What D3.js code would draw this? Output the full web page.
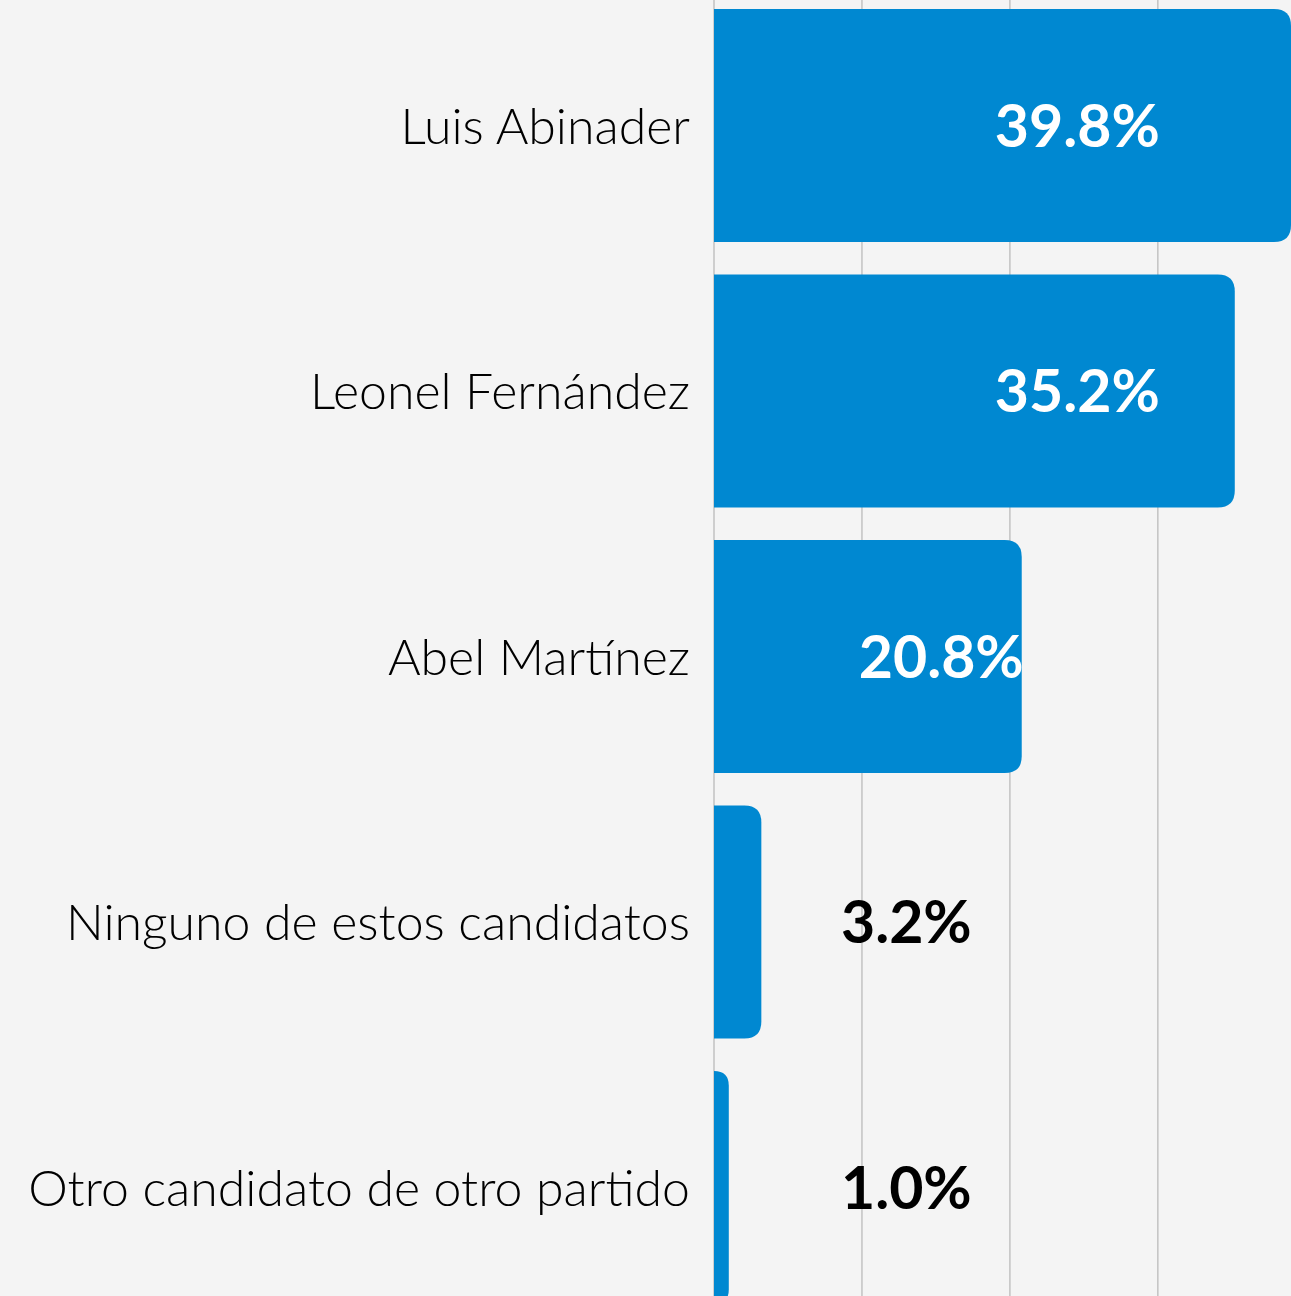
<!DOCTYPE html>
<html>
<head>
<meta charset="utf-8">
<script src="https://cdn.jsdelivr.net/npm/d3@7"></script>
<style>
  html, body { margin: 0; padding: 0; background: #f4f4f4; }
  svg { display: block; }
</style>
</head>
<body>
<svg id="chart" width="1291" height="1296"></svg>
<script>
// Intención de voto por candidato (%)
const candidates = [
  "Luis Abinader",
  "Leonel Fernández",
  "Abel Martínez",
  "Ninguno de estos candidatos",
  "Otro candidato de otro partido"
];
const shares = [39.8, 35.2, 20.8, 3.2, 1.0];
const gridTicks = [0, 10, 20, 30];

const data = candidates.map((name, i) => ({ name, value: shares[i] }));

const W = 1291, H = 1296;
const svg = d3.select("#chart");

svg.append("rect").attr("width", W).attr("height", H).attr("fill", "#f4f4f4");

// horizontal value scale; the plot area ends at the right edge of the frame
const x = d3.scaleLinear().domain([0, 39]).range([714, 1291]).clamp(true);

// vertical band scale for the categories
const y = d3.scaleBand()
  .domain(candidates)
  .range([-7.2, 1320.3])
  .paddingInner(0.122)
  .paddingOuter(0.061);

// vertical gridlines
svg.append("g")
  .selectAll("line")
  .data(gridTicks)
  .join("line")
  .attr("x1", d => x(d)).attr("x2", d => x(d))
  .attr("y1", 0).attr("y2", H)
  .attr("stroke", "#c2c2c2")
  .attr("stroke-width", 1.5);

// bar with square left side and rounded right corners
function barPath(x0, x1, y0, h, r) {
  const w = x1 - x0;
  const rr = Math.min(r, w, h / 2);
  return `M${x0},${y0}H${x1 - rr}Q${x1},${y0} ${x1},${y0 + rr}` +
         `V${y0 + h - rr}Q${x1},${y0 + h} ${x1 - rr},${y0 + h}H${x0}Z`;
}

svg.append("g")
  .selectAll("path")
  .data(data)
  .join("path")
  .attr("d", d => barPath(x(0), x(d.value), y(d.name), y.bandwidth(), 17))
  .attr("fill", "#0088d1");

// category labels
svg.append("g")
  .selectAll("text")
  .data(data)
  .join("text")
  .attr("x", 690)
  .attr("y", d => y(d.name) + y.bandwidth() / 2)
  .attr("dy", "0.36em")
  .attr("text-anchor", "end")
  .attr("font-family", "Lato, 'Open Sans', sans-serif")
  .attr("font-weight", 300)
  .attr("font-size", 50)
  .attr("fill", "#000")
  .text(d => d.name);

// value labels: inside the long bars in white, beside the short ones in black
const insideMin = 10;
const fmt = d => d.toFixed(1) + "%";
svg.append("g")
  .selectAll("text")
  .data(data)
  .join("text")
  .attr("x", d => d.value >= insideMin ? Math.min(x(d.value), x(30)) + 2 : x(13))
  .attr("y", d => y(d.name) + y.bandwidth() / 2)
  .attr("dy", "0.36em")
  .attr("text-anchor", d => d.value >= insideMin ? "end" : "middle")
  .attr("font-family", "Lato, 'Open Sans', sans-serif")
  .attr("font-weight", 700)
  .attr("font-size", 59)
  .attr("fill", d => d.value >= insideMin ? "#ffffff" : "#000000")
  .text(d => fmt(d.value));
</script>
</body>
</html>
